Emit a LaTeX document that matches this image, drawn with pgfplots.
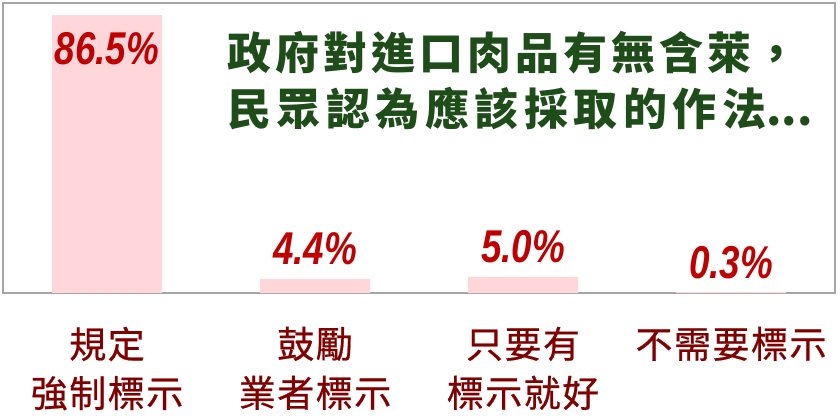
\documentclass[border=0pt]{standalone}
\usepackage{fontspec}
\usepackage{graphicx}
\usepackage{pgfplots}
\pgfplotsset{compat=1.18}
\setmainfont{Liberation Sans}
\newfontfamily\cjktitle[LetterSpace=9]{Noto Sans CJK TC}
\newfontfamily\cjktitleb[LetterSpace=12.5]{Noto Sans CJK TC}
\newfontfamily\cjkplain{Noto Sans CJK TC}
\newfontfamily\cjklab[LetterSpace=4,FakeBold=0.6]{Noto Sans CJK TC}
\definecolor{barpink}{HTML}{FFD6D9}
\definecolor{valred}{HTML}{C00000}
\definecolor{labred}{HTML}{800000}
\definecolor{titlegreen}{HTML}{1F4D1A}
\definecolor{framegray}{HTML}{A6A6A6}
\begin{document}
\begin{tikzpicture}
\begin{axis}[
  at={(0,0)}, anchor=south west,
  width=416pt, height=145pt, scale only axis,
  xmin=-0.5, xmax=3.5, ymin=0, ymax=90.2,
  axis line style={draw=framegray, line width=0.6pt},
  ytick=\empty,
  xtick={0,1,2,3},
  xticklabels={{規定\\強制標示},{鼓勵\\業者標示},{只要有\\標示就好},{不需要標示}},
  major tick length=0pt,
  xticklabel style={font=\cjklab\fontsize{18.5}{24.5}\selectfont, text=labred,
    align=center, anchor=north, inner sep=0pt, yshift=-16.7pt},
  ybar, bar width=55pt,
  point meta=explicit symbolic,
  nodes near coords={\scalebox{0.8}[1]{\pgfplotspointmeta}},
  every node near coord/.append style={font=\fontsize{23}{23}\selectfont\bfseries\itshape,
    text=valred, inner sep=0pt},
]
\addplot[fill=barpink, draw=none, bar shift=0pt,
  every node near coord/.append style={anchor=base, yshift=-25pt}]
  coordinates {(0,86.5) [86.5\%]};
\addplot[fill=barpink, draw=none, bar shift=0pt,
  every node near coord/.append style={anchor=base, yshift=7pt}]
  coordinates {(1,4.4) [4.4\%] (2,5.0) [5.0\%] (3,0.3) [0.3\%]};
\end{axis}
\node[anchor=base west, inner sep=0pt, text=titlegreen,
  font=\cjktitle\bfseries\fontsize{22}{22}\selectfont] at (112pt,111.6pt) {政府對進口肉品有無含萊，};
\node[anchor=base west, inner sep=0pt, text=titlegreen,
  font=\cjktitleb\bfseries\fontsize{22}{22}\selectfont] at (112pt,83.6pt) {民眾認為應該採取的作法{\cjkplain\bfseries...}};
\pgfresetboundingbox
\path (-1.5pt,-63pt) rectangle (418.5pt,146.5pt);
\end{tikzpicture}
\end{document}
